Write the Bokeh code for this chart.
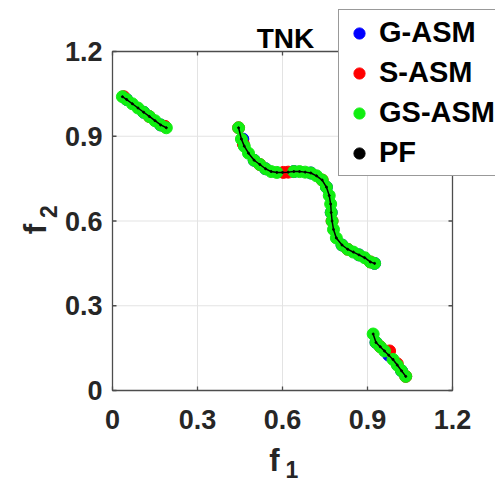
import math
from bokeh.plotting import figure
from bokeh.models import Legend, LegendItem, Range1d
from bokeh.core.properties import value
from bokeh.embed import file_html
from bokeh.resources import INLINE

# Pareto front (PF) segments
pf_f1 = [[0.035, 0.05, 0.07, 0.09, 0.11, 0.13, 0.15, 0.17, 0.19],
         [0.445, 0.455, 0.465, 0.48, 0.50, 0.52, 0.54, 0.56, 0.58, 0.60, 0.62, 0.64, 0.66, 0.68, 0.70,
          0.72, 0.74, 0.755, 0.765, 0.77, 0.772, 0.775, 0.78, 0.79, 0.81, 0.83, 0.85, 0.87, 0.89, 0.91, 0.925],
         [0.92, 0.93, 0.945, 0.96, 0.975, 0.99, 1.005, 1.02, 1.035]]
pf_f2 = [[1.04, 1.03, 1.015, 1.0, 0.985, 0.97, 0.955, 0.94, 0.93],
         [0.93, 0.89, 0.865, 0.84, 0.815, 0.80, 0.785, 0.775, 0.772, 0.772, 0.773, 0.775, 0.775, 0.773, 0.77,
          0.76, 0.745, 0.72, 0.69, 0.66, 0.63, 0.60, 0.57, 0.54, 0.515, 0.50, 0.49, 0.48, 0.47, 0.455, 0.45],
         [0.20, 0.17, 0.155, 0.14, 0.125, 0.11, 0.09, 0.07, 0.05]]

g_f1 = [0.05, 0.11, 0.17, 0.46, 0.50, 0.54, 0.64, 0.70, 0.755, 0.772, 0.81, 0.87, 0.925, 0.93, 0.975, 1.02]
g_f2 = [1.03, 0.985, 0.94, 0.89, 0.815, 0.785, 0.775, 0.77, 0.72, 0.63, 0.515, 0.48, 0.45, 0.17, 0.125, 0.07]

s_f1 = [0.04, 0.13, 0.185, 0.445, 0.462, 0.52, 0.603, 0.62, 0.74, 0.775, 0.83, 0.91, 0.945, 0.978, 1.005, 1.035]
s_f2 = [1.04, 0.97, 0.935, 0.93, 0.872, 0.80, 0.772, 0.773, 0.745, 0.60, 0.50, 0.455, 0.155, 0.14, 0.095, 0.05]

gs_f1 = [0.035, 0.05, 0.07, 0.09, 0.11, 0.13, 0.15, 0.17, 0.19,
         0.445, 0.455, 0.465, 0.48, 0.50, 0.52, 0.54, 0.56, 0.58, 0.64, 0.66, 0.68, 0.70,
         0.72, 0.74, 0.755, 0.765, 0.77, 0.772, 0.775, 0.78, 0.79, 0.81, 0.83, 0.85, 0.87, 0.89, 0.91, 0.925,
         0.92, 0.93, 0.945, 0.96, 0.99, 1.005, 1.02, 1.035]
gs_f2 = [1.04, 1.03, 1.015, 1.0, 0.985, 0.97, 0.955, 0.94, 0.93,
         0.93, 0.89, 0.865, 0.84, 0.815, 0.80, 0.785, 0.775, 0.772, 0.775, 0.775, 0.773, 0.77,
         0.76, 0.745, 0.72, 0.69, 0.66, 0.63, 0.60, 0.57, 0.54, 0.515, 0.50, 0.49, 0.48, 0.47, 0.455, 0.45,
         0.20, 0.17, 0.155, 0.14, 0.11, 0.09, 0.07, 0.05]

ticks = [0, 0.3, 0.6, 0.9, 1.2]
tick_labels = ["0", "0.3", "0.6", "0.9", "1.2"]
title_text = "TNK"
x_label = ("f", "1")
y_label = ("f", "2")
series_names = ["G-ASM", "S-ASM", "GS-ASM", "PF"]
series_colors = ["#0000ff", "#ff0000", "#11ee11", "#000000"]

# ---- layout (pixels) ----
W, H = 495, 484
PX_L, PX_R, PX_T, PX_B = 112, 452, 51, 390
lo, hi = ticks[0], ticks[-1]
kx = (PX_R - PX_L) / (hi - lo)
ky = (PX_B - PX_T) / (hi - lo)
x_rng = Range1d(lo - PX_L / kx, lo + (W - PX_L) / kx)
y_rng = Range1d(lo - (H - PX_B) / ky, hi + PX_T / ky)

FONT = value("Liberation Sans")
TXT = "#262626"
AXC = "#4d4d4d"

p = figure(width=W, height=H, output_backend="svg", toolbar_location=None,
           x_range=x_rng, y_range=y_rng, x_axis_type=None, y_axis_type=None,
           min_border=0, outline_line_color=None)
p.background_fill_color = "white"
p.border_fill_color = "white"

# grid
inner = ticks[1:-1]
p.segment(x0=inner, y0=[lo] * len(inner), x1=inner, y1=[hi] * len(inner), line_color="#e3e3e3", line_width=1)
p.segment(x0=[lo] * len(inner), y0=inner, x1=[hi] * len(inner), y1=inner, line_color="#e3e3e3", line_width=1)

# data
gr = p.scatter(g_f1, g_f2, size=12, color=series_colors[0])
sr = p.scatter(s_f1, s_f2, size=12, color=series_colors[1])
gsr = p.scatter(gs_f1, gs_f2, size=12, color=series_colors[2])
for xs, ys in zip(pf_f1, pf_f2):
    p.line(xs, ys, color="black", line_width=1.5)
pfr = p.scatter(sum(pf_f1, []), sum(pf_f2, []), size=2, color=series_colors[3])

# axes box and inward ticks
p.quad(left=[lo], right=[hi], bottom=[lo], top=[hi], fill_alpha=0, line_color=AXC, line_width=1.3)
tlx, tly = 4 / kx, 4 / ky
n = len(ticks)
p.segment(x0=ticks, y0=[lo] * n, x1=ticks, y1=[lo + tly] * n, line_color=AXC, line_width=1.3)
p.segment(x0=ticks, y0=[hi] * n, x1=ticks, y1=[hi - tly] * n, line_color=AXC, line_width=1.3)
p.segment(x0=[lo] * n, y0=ticks, x1=[lo + tlx] * n, y1=ticks, line_color=AXC, line_width=1.3)
p.segment(x0=[hi] * n, y0=ticks, x1=[hi - tlx] * n, y1=ticks, line_color=AXC, line_width=1.3)

# tick labels
p.text(x=ticks, y=[lo] * n, text=tick_labels, y_offset=29, text_align="center", text_baseline="middle",
       text_font=FONT, text_font_size="27px", text_font_style="bold", text_color=TXT)
p.text(x=[lo] * n, y=ticks, text=tick_labels, x_offset=-10, text_align="right", text_baseline="middle",
       text_font=FONT, text_font_size="27px", text_font_style="bold", text_color=TXT)

# axis labels (main letter + subscript)
mid = (lo + hi) / 2
p.text(x=[mid], y=[lo], text=[x_label[0]], x_offset=-8, y_offset=70, text_align="center",
       text_baseline="alphabetic", text_font=FONT, text_font_size="31px", text_font_style="bold", text_color=TXT)
p.text(x=[mid], y=[lo], text=[x_label[1]], x_offset=3, y_offset=79, text_align="left",
       text_baseline="alphabetic", text_font=FONT, text_font_size="23px", text_font_style="bold", text_color=TXT)
p.text(x=[lo], y=[mid], text=[y_label[0]], x_offset=-77, y_offset=8, angle=math.pi / 2, text_align="center",
       text_baseline="alphabetic", text_font=FONT, text_font_size="31px", text_font_style="bold", text_color=TXT)
p.text(x=[lo], y=[mid], text=[y_label[1]], x_offset=-64, y_offset=-3, angle=math.pi / 2, text_align="left",
       text_baseline="alphabetic", text_font=FONT, text_font_size="23px", text_font_style="bold", text_color=TXT)

# title
p.text(x=[mid], y=[hi], text=[title_text], x_offset=3, y_offset=-13, text_align="center",
       text_baseline="alphabetic", text_font=FONT, text_font_size="28px", text_font_style="bold",
       text_color="#000000")

legend = Legend(items=[LegendItem(label=series_names[0], renderers=[gr]),
                       LegendItem(label=series_names[1], renderers=[sr]),
                       LegendItem(label=series_names[2], renderers=[gsr]),
                       LegendItem(label=series_names[3], renderers=[pfr])],
                location=(338, H - 176))
legend.label_text_font = "Liberation Sans"
legend.label_text_font_size = "29px"
legend.label_text_font_style = "bold"
legend.label_text_color = "#000000"
legend.label_height = 30
legend.glyph_height = 30
legend.glyph_width = 28
legend.spacing = 7
legend.padding = 6
legend.margin = 0
legend.label_standoff = 6
legend.border_line_color = "#333333"
legend.border_line_width = 1.3
legend.background_fill_alpha = 1
p.add_layout(legend, "center")

open("out.html", "w").write(file_html(p, INLINE))
